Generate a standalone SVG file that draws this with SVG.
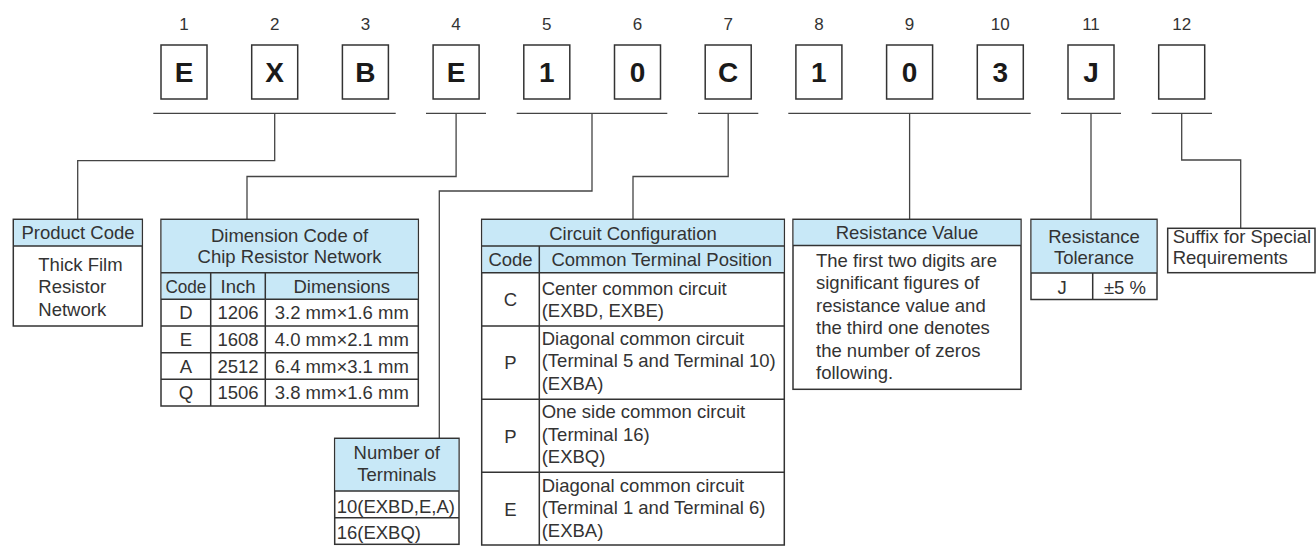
<svg xmlns="http://www.w3.org/2000/svg" width="1316" height="551" viewBox="0 0 1316 551">
<style>
text{font-family:"Liberation Sans",Arial,Helvetica,sans-serif;fill:#333;font-size:18.5px}
.num{font-size:17px;text-anchor:middle}
.let{font-size:28px;font-weight:bold;text-anchor:middle;fill:#1a1a1a}
.c{text-anchor:middle}
.box{fill:#fff;stroke:#333;stroke-width:1.5}
.hd{fill:#c8e8f7;stroke:none}
.ln{stroke:#333;stroke-width:1.5;fill:none}
.cn{stroke:#444;stroke-width:1.3;fill:none}
</style>
<g id="code-boxes">
<rect class="box" x="161" y="45" width="46" height="54"/>
<rect class="box" x="251.7" y="45" width="46" height="54"/>
<rect class="box" x="342.4" y="45" width="46" height="54"/>
<rect class="box" x="433.1" y="45" width="46" height="54"/>
<rect class="box" x="523.8" y="45" width="46" height="54"/>
<rect class="box" x="614.5" y="45" width="46" height="54"/>
<rect class="box" x="705.2" y="45" width="46" height="54"/>
<rect class="box" x="795.9" y="45" width="46" height="54"/>
<rect class="box" x="886.6" y="45" width="46" height="54"/>
<rect class="box" x="977.3" y="45" width="46" height="54"/>
<rect class="box" x="1068" y="45" width="46" height="54"/>
<rect class="box" x="1158.7" y="45" width="46" height="54"/>
<text class="num" x="184" y="29.5">1</text>
<text class="num" x="274.7" y="29.5">2</text>
<text class="num" x="365.4" y="29.5">3</text>
<text class="num" x="456.1" y="29.5">4</text>
<text class="num" x="546.8" y="29.5">5</text>
<text class="num" x="637.5" y="29.5">6</text>
<text class="num" x="728.2" y="29.5">7</text>
<text class="num" x="818.9" y="29.5">8</text>
<text class="num" x="909.6" y="29.5">9</text>
<text class="num" x="1000.3" y="29.5">10</text>
<text class="num" x="1091" y="29.5">11</text>
<text class="num" x="1181.7" y="29.5">12</text>
<text class="let" x="184" y="82">E</text>
<text class="let" x="274.7" y="82">X</text>
<text class="let" x="365.4" y="82">B</text>
<text class="let" x="456.1" y="82">E</text>
<text class="let" x="546.8" y="82">1</text>
<text class="let" x="637.5" y="82">0</text>
<text class="let" x="728.2" y="82">C</text>
<text class="let" x="818.9" y="82">1</text>
<text class="let" x="909.6" y="82">0</text>
<text class="let" x="1000.3" y="82">3</text>
<text class="let" x="1091" y="82">J</text>
</g>
<g id="connectors">
<path class="cn" d="M153.3 113.3H395.7M426 113.3H486M516.7 113.3H667.3M698 113.3H758.3M788.3 113.3H1030.7M1061 113.3H1121M1151.7 113.3H1212"/>
<path class="cn" d="M274.7 113.3V160.7H77.7V219.3"/>
<path class="cn" d="M456.1 113.3V176.5H247V219.3"/>
<path class="cn" d="M592 113.3V191H439.3V438.3"/>
<path class="cn" d="M728.2 113.3V176.5H633V219.3"/>
<path class="cn" d="M909.6 113.3V219.3"/>
<path class="cn" d="M1091 113.3V219.3"/>
<path class="cn" d="M1181.7 113.3V160H1240.7V228.3"/>
</g>
<g id="product-code">
<rect class="box" x="13.3" y="219.3" width="129" height="106.7"/>
<rect class="hd" x="14" y="220" width="127.5" height="26"/>
<path class="ln" d="M13.3 246H142.3"/>
<text class="c" x="78" y="239">Product Code</text>
<text x="38.3" y="270.7">Thick Film</text>
<text x="38.3" y="293.3">Resistor</text>
<text x="38.3" y="315.7">Network</text>
</g>
<g id="dimension-code">
<rect class="box" x="161" y="219.3" width="257.3" height="186.7"/>
<rect class="hd" x="161.7" y="220" width="255.9" height="79.3"/>
<path class="ln" d="M161 272.7H418.3M161 299.3H418.3M161 326H418.3M161 352.7H418.3M161 379.3H418.3M210.7 272.7V406M265.3 272.7V406"/>
<text class="c" x="289.6" y="241.7">Dimension Code of</text>
<text class="c" x="289.6" y="263.3">Chip Resistor Network</text>
<text class="c" x="185.9" y="292.6" textLength="41" lengthAdjust="spacingAndGlyphs">Code</text>
<text class="c" x="238" y="292.6">Inch</text>
<text class="c" x="341.8" y="292.6">Dimensions</text>
<text class="c" x="185.9" y="319.3">D</text>
<text class="c" x="238" y="319.3">1206</text>
<text class="c" x="341.8" y="319.3">3.2 mm×1.6 mm</text>
<text class="c" x="185.9" y="346">E</text>
<text class="c" x="238" y="346">1608</text>
<text class="c" x="341.8" y="346">4.0 mm×2.1 mm</text>
<text class="c" x="185.9" y="372.6">A</text>
<text class="c" x="238" y="372.6">2512</text>
<text class="c" x="341.8" y="372.6">6.4 mm×3.1 mm</text>
<text class="c" x="185.9" y="399.3">Q</text>
<text class="c" x="238" y="399.3">1506</text>
<text class="c" x="341.8" y="399.3">3.8 mm×1.6 mm</text>
</g>
<g id="number-of-terminals">
<rect class="box" x="334.7" y="438.3" width="124.3" height="106"/>
<rect class="hd" x="335.4" y="439" width="122.9" height="52"/>
<path class="ln" d="M334.7 491H459M334.7 517.7H459"/>
<text class="c" x="396.8" y="459.3">Number of</text>
<text class="c" x="396.8" y="481">Terminals</text>
<text x="336.7" y="512.7">10(EXBD,E,A)</text>
<text x="336.7" y="539">16(EXBQ)</text>
</g>
<g id="circuit-configuration">
<rect class="box" x="481.7" y="219.3" width="302.6" height="325.7"/>
<rect class="hd" x="482.4" y="220" width="301.2" height="52.7"/>
<path class="ln" d="M481.7 246H784.3M481.7 272.7H784.3M481.7 326H784.3M481.7 399.3H784.3M481.7 472.3H784.3M539.3 246V545"/>
<text class="c" x="633" y="239.5">Circuit Configuration</text>
<text class="c" x="510.5" y="265.5">Code</text>
<text class="c" x="661.8" y="265.5">Common Terminal Position</text>
<text class="c" x="510.5" y="306">C</text>
<text x="541.7" y="295">Center common circuit</text>
<text x="541.7" y="317.3">(EXBD, EXBE)</text>
<text class="c" x="510.5" y="369.3">P</text>
<text x="541.7" y="345">Diagonal common circuit</text>
<text x="541.7" y="367.3">(Terminal 5 and Terminal 10)</text>
<text x="541.7" y="390">(EXBA)</text>
<text class="c" x="510.5" y="442.5">P</text>
<text x="541.7" y="418.3">One side common circuit</text>
<text x="541.7" y="440.7">(Terminal 16)</text>
<text x="541.7" y="463.3">(EXBQ)</text>
<text class="c" x="510.5" y="515.5">E</text>
<text x="541.7" y="491.7">Diagonal common circuit</text>
<text x="541.7" y="514">(Terminal 1 and Terminal 6)</text>
<text x="541.7" y="536.7">(EXBA)</text>
</g>
<g id="resistance-value">
<rect class="box" x="793" y="219.3" width="228" height="170"/>
<rect class="hd" x="793.7" y="220" width="226.6" height="25.4"/>
<path class="ln" d="M793 245.4H1021"/>
<text class="c" x="907" y="239">Resistance Value</text>
<text x="816" y="266.7">The first two digits are</text>
<text x="816" y="289.2">significant figures of</text>
<text x="816" y="311.7">resistance value and</text>
<text x="816" y="334.2">the third one denotes</text>
<text x="816" y="356.7">the number of zeros</text>
<text x="816" y="379.2">following.</text>
</g>
<g id="resistance-tolerance">
<rect class="box" x="1031" y="219.3" width="126" height="80.2"/>
<rect class="hd" x="1031.7" y="220" width="124.6" height="53"/>
<path class="ln" d="M1031 273H1157M1092.7 273V299.5"/>
<text class="c" x="1094" y="242.7">Resistance</text>
<text class="c" x="1094" y="264">Tolerance</text>
<text class="c" x="1062" y="294.3">J</text>
<text class="c" x="1125" y="294.3">±5 %</text>
</g>
<g id="suffix">
<rect class="box" x="1167.7" y="228.3" width="147.3" height="44.4"/>
<text x="1172.7" y="243.3">Suffix for Special</text>
<text x="1172.7" y="264">Requirements</text>
</g>
</svg>
